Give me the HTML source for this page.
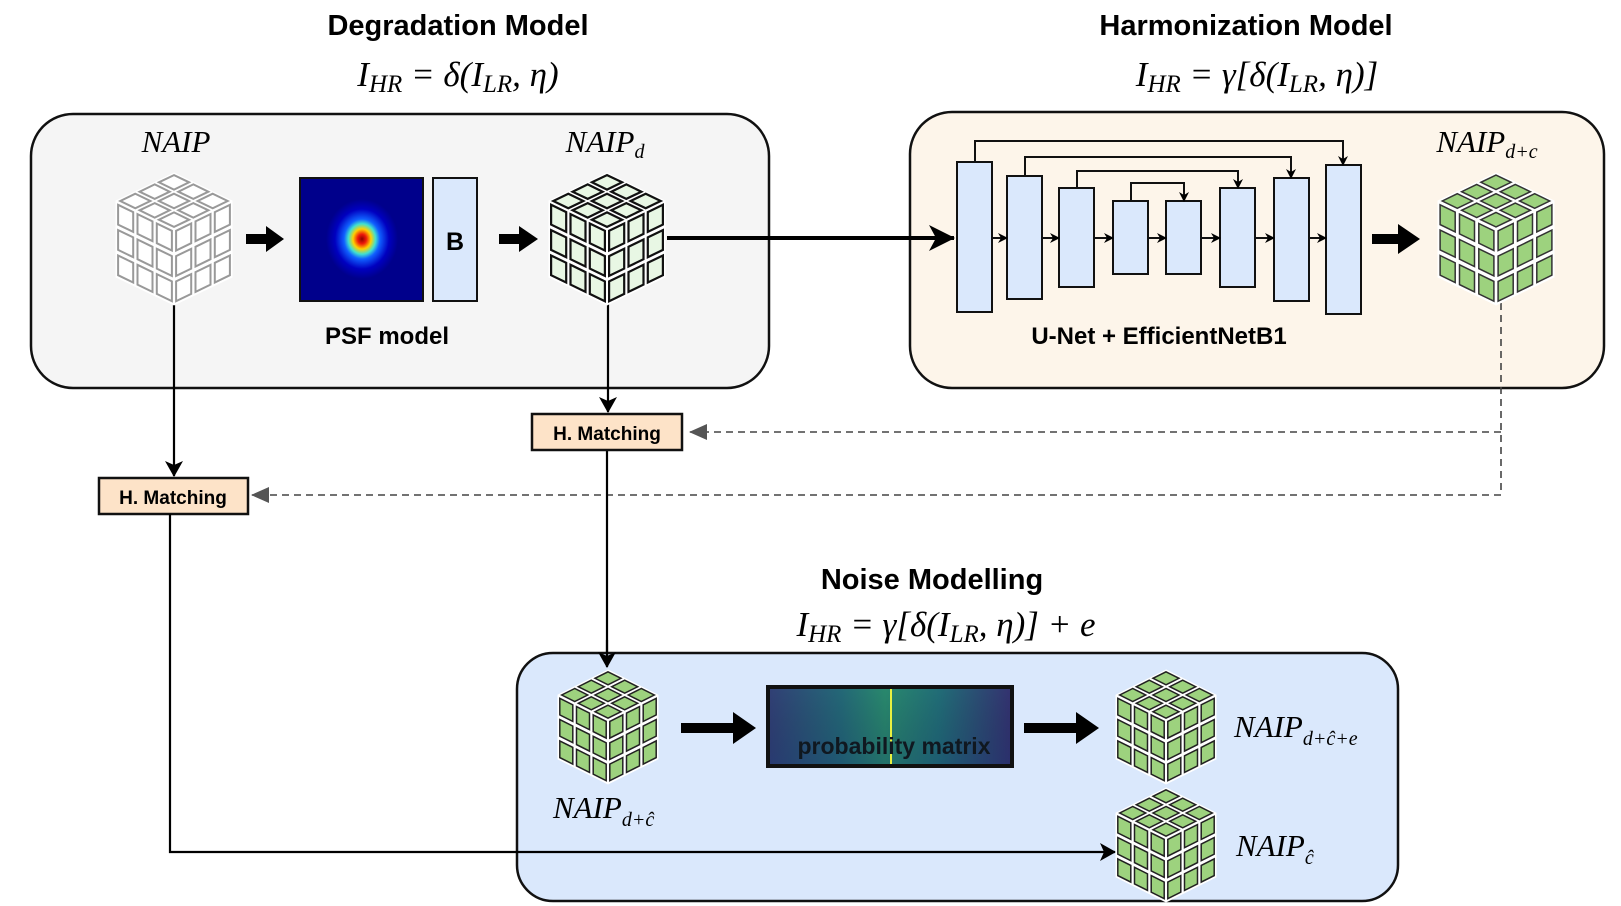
<!DOCTYPE html>
<html><head><meta charset="utf-8">
<style>
body{margin:0;background:#fff;}
svg{display:block;}
.t{font-family:"Liberation Sans",sans-serif;font-weight:bold;}
.m{font-family:"Liberation Serif",serif;font-style:italic;}
</style></head>
<body>
<svg id="s" width="1621" height="906" viewBox="0 0 1621 906" xmlns="http://www.w3.org/2000/svg">
<defs>
<radialGradient id="psf" cx="0.5" cy="0.5" r="0.5">
<stop offset="0" stop-color="#8b0000"/>
<stop offset="0.12" stop-color="#ee1a0a"/>
<stop offset="0.25" stop-color="#ffd000"/>
<stop offset="0.38" stop-color="#40e0d0"/>
<stop offset="0.5" stop-color="#1060ff"/>
<stop offset="0.75" stop-color="#0000c0"/>
<stop offset="1" stop-color="#00008b"/>
</radialGradient>
<linearGradient id="pm" x1="0" y1="0" x2="1" y2="0">
<stop offset="0" stop-color="#3a4a8a"/>
<stop offset="0.3" stop-color="#2a7a8c"/>
<stop offset="0.48" stop-color="#30a080"/>
<stop offset="0.7" stop-color="#27808c"/>
<stop offset="1" stop-color="#3d3a84"/>
</linearGradient>
<linearGradient id="pmv" x1="0" y1="0" x2="0" y2="1">
<stop offset="0" stop-color="#000" stop-opacity="0.15"/>
<stop offset="1" stop-color="#0a1a40" stop-opacity="0.35"/>
</linearGradient>
<marker id="ah" markerWidth="10" markerHeight="10" refX="9" refY="5" orient="auto" markerUnits="userSpaceOnUse"><path d="M0,0 L10,5 L0,10 L3,5z" fill="#000"/></marker>
<marker id="ahm" markerWidth="16" markerHeight="18" refX="15" refY="9" orient="auto" markerUnits="userSpaceOnUse"><path d="M0,0 L16,9 L0,18 L4,9z" fill="#000"/></marker>
<marker id="ahl" markerWidth="26" markerHeight="26" refX="25" refY="13" orient="auto" markerUnits="userSpaceOnUse"><path d="M0,0 L26,13 L0,26 L7,13z" fill="#000"/></marker>
<marker id="ahg" markerWidth="18" markerHeight="16" refX="17" refY="8" orient="auto" markerUnits="userSpaceOnUse"><path d="M0,0 L18,8 L0,16z" fill="#555"/></marker>
</defs>

<!-- titles -->
<text class="t" x="458" y="35" font-size="29" text-anchor="middle">Degradation Model</text>
<text class="m" x="458" y="86" font-size="35" text-anchor="middle">I<tspan font-size="25" dy="6">HR</tspan><tspan dy="-6"> = δ(I</tspan><tspan font-size="25" dy="6">LR</tspan><tspan dy="-6">, η)</tspan></text>
<text class="t" x="1246" y="35" font-size="29" text-anchor="middle">Harmonization Model</text>
<text class="m" x="1257" y="86" font-size="35" text-anchor="middle">I<tspan font-size="25" dy="6">HR</tspan><tspan dy="-6"> = γ[δ(I</tspan><tspan font-size="25" dy="6">LR</tspan><tspan dy="-6">, η)]</tspan></text>

<!-- boxes -->
<rect x="31" y="114" width="738" height="274" rx="42" fill="#f5f5f5" stroke="#111" stroke-width="2.5"/>
<rect x="910" y="112" width="694" height="276" rx="42" fill="#fdf5ea" stroke="#111" stroke-width="2.5"/>

<text class="m" x="176" y="152" font-size="31" text-anchor="middle">NAIP</text>
<text class="m" x="605" y="152" font-size="31" text-anchor="middle">NAIP<tspan font-size="20" dy="6">d</tspan></text>
<text class="m" x="1487" y="152" font-size="31" text-anchor="middle">NAIP<tspan font-size="20" dy="6">d+c</tspan></text>

<!-- PSF -->
<rect x="300" y="178" width="123" height="123" fill="#00008b" stroke="#111" stroke-width="2"/>
<ellipse cx="362" cy="239" rx="36" ry="40" fill="url(#psf)"/>
<rect x="433" y="178" width="44" height="123" fill="#dae8fc" stroke="#111" stroke-width="2"/>
<text class="t" x="455" y="250" font-size="25" text-anchor="middle">B</text>
<text class="t" x="387" y="344" font-size="24" text-anchor="middle">PSF model</text>

<!-- thick arrows (top) -->
<g fill="#000">
<polygon points="246,234 266,234 266,226 284,239 266,252 266,244 246,244"/>
<polygon points="499,234 519,234 519,226 538,239 519,252 519,244 499,244"/>
<polygon points="1372,234 1398,234 1398,224 1420,239 1398,254 1398,244 1372,244"/>
</g>
<line x1="667" y1="238" x2="954" y2="238" stroke="#000" stroke-width="4" marker-end="url(#ahl)"/>

<!-- U-Net -->
<g fill="#dae8fc" stroke="#111" stroke-width="2">
<rect x="957" y="162" width="35" height="150"/>
<rect x="1007" y="176" width="35" height="123"/>
<rect x="1059" y="188" width="35" height="99"/>
<rect x="1113" y="201" width="35" height="73"/>
<rect x="1166" y="201" width="35" height="73"/>
<rect x="1220" y="188" width="35" height="99"/>
<rect x="1274" y="178" width="35" height="123"/>
<rect x="1326" y="165" width="35" height="149"/>
</g>
<g fill="none" stroke="#111" stroke-width="2" marker-end="url(#ah)">
<polyline points="975,162 975,141 1343,141 1343,165"/>
<polyline points="1025,176 1025,157 1291,157 1291,178"/>
<polyline points="1077,188 1077,171 1238,171 1238,188"/>
<polyline points="1131,201 1131,183 1184,183 1184,201"/>
<line x1="992" y1="238" x2="1007" y2="238"/>
<line x1="1042" y1="238" x2="1059" y2="238"/>
<line x1="1094" y1="238" x2="1113" y2="238"/>
<line x1="1148" y1="238" x2="1166" y2="238"/>
<line x1="1201" y1="238" x2="1220" y2="238"/>
<line x1="1255" y1="238" x2="1274" y2="238"/>
<line x1="1309" y1="238" x2="1326" y2="238"/>
</g>
<text class="t" x="1159" y="344" font-size="24" text-anchor="middle">U-Net + EfficientNetB1</text>

<!-- dashed -->
<g stroke="#444" stroke-width="1.6" stroke-dasharray="7,5" fill="none">
<line x1="1501" y1="303" x2="1501" y2="495"/>
<line x1="1501" y1="432" x2="690" y2="432" marker-end="url(#ahg)"/>
<line x1="1501" y1="495" x2="252" y2="495" marker-end="url(#ahg)"/>
</g>

<!-- connectors -->
<g stroke="#000" stroke-width="2.2" fill="none">
<line x1="174" y1="303" x2="174" y2="476" marker-end="url(#ahm)"/>
<line x1="608" y1="300" x2="608" y2="412" marker-end="url(#ahm)"/>
<line x1="607" y1="450" x2="607" y2="667" marker-end="url(#ahm)"/>
</g>

<!-- H matching -->
<rect x="532" y="414" width="150" height="36" fill="#fde3c8" stroke="#111" stroke-width="2.5"/>
<text class="t" x="607" y="440" font-size="19" text-anchor="middle">H. Matching</text>
<rect x="99" y="478" width="149" height="36" fill="#fde3c8" stroke="#111" stroke-width="2.5"/>
<text class="t" x="173" y="504" font-size="19" text-anchor="middle">H. Matching</text>

<!-- Noise -->
<text class="t" x="932" y="589" font-size="29" text-anchor="middle">Noise Modelling</text>
<text class="m" x="946" y="636" font-size="35" text-anchor="middle">I<tspan font-size="25" dy="6">HR</tspan><tspan dy="-6"> = γ[δ(I</tspan><tspan font-size="25" dy="6">LR</tspan><tspan dy="-6">, η)] + e</tspan></text>
<rect x="517" y="653" width="881" height="248" rx="36" fill="#dae8fc" stroke="#111" stroke-width="2.5"/>
<polyline points="170,514 170,852 1115,852" stroke="#000" stroke-width="2.2" fill="none" marker-end="url(#ahm)"/>
<line x1="607" y1="640" x2="607" y2="667" stroke="#000" stroke-width="2.2" marker-end="url(#ahm)"/>

<g fill="#000">
<polygon points="681,723 733,723 733,712 756,728 733,744 733,733 681,733"/>
<polygon points="1024,723 1076,723 1076,712 1099,728 1076,744 1076,733 1024,733"/>
</g>

<rect x="768" y="687" width="244" height="79" fill="url(#pm)" stroke="#111" stroke-width="4"/>
<rect x="770" y="689" width="240" height="75" fill="url(#pmv)"/>
<line x1="891" y1="689" x2="891" y2="764" stroke="#e8f040" stroke-width="2"/>
<text class="t" x="894" y="754" font-size="23" text-anchor="middle" fill="#101820">probability matrix</text>

<text class="m" x="553" y="818" font-size="31">NAIP<tspan font-size="20" dy="8">d+ĉ</tspan></text>
<text class="m" x="1234" y="737" font-size="31">NAIP<tspan font-size="20" dy="8">d+ĉ+e</tspan></text>
<text class="m" x="1236" y="856" font-size="31">NAIP<tspan font-size="20" dy="8">ĉ</tspan></text>

<g id="cubes"></g>
</svg>
<script>
(function(){
var g=document.getElementById('cubes'),NS='http://www.w3.org/2000/svg';
function poly(pts,fill,stroke,sw){var p=document.createElementNS(NS,'polygon');p.setAttribute('points',pts.map(function(q){return q[0].toFixed(1)+','+q[1].toFixed(1)}).join(' '));p.setAttribute('fill',fill);p.setAttribute('stroke',stroke);p.setAttribute('stroke-width',sw);g.appendChild(p);}
function cube(cx,cy,W,A,D,bg,cell,st,sw){
 var T=[cx,cy-D/2-A],C=[cx,cy-D/2+A],L=[cx-W,cy-D/2],R=[cx+W,cy-D/2];
 var B=[cx,cy+D/2+A],LB=[cx-W,cy+D/2],RB=[cx+W,cy+D/2];
 poly([T,R,RB,B,LB,L],bg,bg,1);
 var faces=[[T,[L[0]-T[0],L[1]-T[1]],[R[0]-T[0],R[1]-T[1]]],[L,[C[0]-L[0],C[1]-L[1]],[0,D]],[C,[R[0]-C[0],R[1]-C[1]],[0,D]]];
 var gp=0.11;
 faces.forEach(function(f){var o=f[0],u=f[1],v=f[2];
  for(var i=0;i<3;i++)for(var j=0;j<3;j++){
   var a0=(i+gp)/3,a1=(i+1-gp)/3,b0=(j+gp)/3,b1=(j+1-gp)/3;
   function P(a,b){return [o[0]+a*u[0]+b*v[0],o[1]+a*u[1]+b*v[1]];}
   poly([P(a0,b0),P(a1,b0),P(a1,b1),P(a0,b1)],cell,st,sw);
  }});
}
cube(174,239,58,28,76,'#fff','#fff','#999',2);
cube(607,239,58,28,76,'#fff','#e8f7e4','#111',2.2);
cube(1496,239,58,28,76,'#fff','#9dd27e','#333',1.5);
cube(608,727,50,25,64,'#fff','#9dd27e','#222',1.5);
cube(1166,727,50,25,64,'#fff','#9dd27e','#222',1.5);
cube(1166,845,50,25,64,'#fff','#9dd27e','#222',1.5);
})();
</script>
</body></html>
